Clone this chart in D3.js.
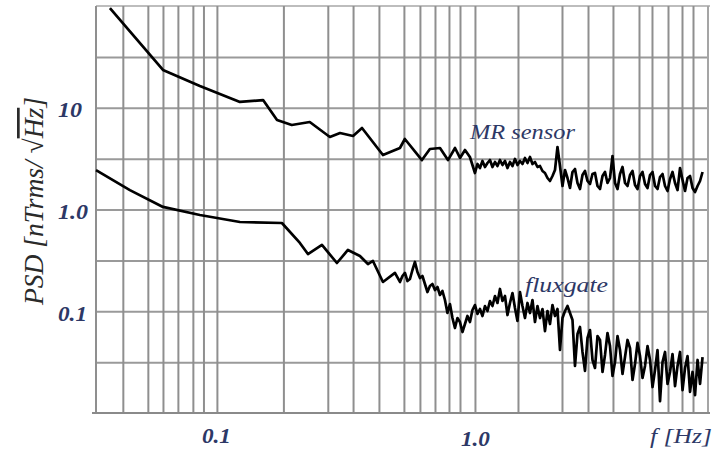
<!DOCTYPE html>
<html><head><meta charset="utf-8">
<script src="https://cdn.jsdelivr.net/npm/d3@7"></script>
<style>body{margin:0;background:#fff}svg{display:block}</style>
</head><body>
<svg id="c" width="721" height="451"></svg>
<script>
// ---- data (frequency in Hz, PSD in nTrms/sqrt(Hz)) ----
const mrFreq = [0.0385,0.0618,0.0859,0.1228,0.151,0.171,0.195,0.229,0.274,0.300,0.337,0.365,0.440,0.512,0.535,0.623,0.669,0.732,0.786,0.837,0.875,0.915,0.956,
 1.0,1.0226,1.0457,1.0693,1.0934,1.1181,1.1433,1.1691,1.1955,1.2225,1.25,1.2782,1.3071,1.3366,1.3667,1.3976,1.4291,1.4614,1.4943,1.5281,1.5625,1.5978,1.6339,1.6707,1.7084,1.747,1.7864,1.8267,1.8679,1.9101,1.9532,1.9973,2.0423,2.0884,2.1355,2.1837,2.233,2.2834,2.3349,2.3876,2.4415,2.4966,2.5529,2.6105,2.6694,2.7297,2.7913,2.8543,2.9187,2.9845,3.0519,3.1208,3.1912,3.2632,3.3368,3.4121,3.4891,3.5679,3.6484,3.7307,3.8149,3.901,3.989,4.079,4.1711,4.2652,4.3614,4.4599,4.5605,4.6634,4.7687,4.8763,4.9863,5.0989,5.2139,5.3316,5.4519,5.575,5.7008,5.8294,5.961,6.0955,6.2331,6.3737,6.5176,6.6647,6.8151,6.9689,7.1261,7.287,7.4514,7.6196];
const mrPSD = [95.5,23.5,16.4,11.4,11.9,7.58,6.77,7.24,5.16,5.65,5.28,6.32,3.43,4.02,4.93,3.06,3.93,4.02,3.06,4.02,3.21,3.84,3.28,
 2.284,2.8,2.558,2.997,2.616,2.864,3.066,2.616,2.93,2.676,3.066,2.737,2.997,2.558,2.93,2.676,3.136,2.737,2.997,2.8,3.208,2.864,3.281,2.8,2.93,2.616,2.676,2.39,2.284,2.04,1.906,2.134,2.444,4.115,2.676,1.702,2.444,2.04,1.627,2.336,2.5,1.822,1.59,2.183,2.39,1.906,1.781,2.233,2.284,1.702,1.59,2.134,2.336,1.822,2.04,3.356,1.822,1.59,2.233,2.616,1.822,1.702,2.183,2.39,1.741,1.59,2.134,2.336,1.781,1.627,2.183,2.336,1.702,1.59,2.086,2.233,1.702,1.52,1.994,2.336,1.822,1.555,2.558,1.95,1.52,2.04,2.134,1.627,1.486,1.702,1.906,2.336];
const fgFreq = [0.034,0.046,0.0618,0.0859,0.1228,0.1786,0.2097,0.2253,0.2553,0.2918,0.3219,0.3583,0.3848,0.4024,0.440,0.4897,
 0.5121,0.5236,0.5355,0.5475,0.5599,0.5725,0.5854,0.5986,0.6121,0.6259,0.64,0.6545,0.6692,0.6843,0.6998,0.7156,0.7317,0.7482,0.7651,0.7824,0.8,0.8181,0.8365,0.8554,0.8747,0.8944,0.9146,0.9352,0.9563,0.9779,
 1.0,1.0226,1.0457,1.0693,1.0934,1.1181,1.1433,1.1691,1.1955,1.2225,1.25,1.2782,1.3071,1.3366,1.3667,1.3976,1.4291,1.4614,1.4943,1.5281,1.5625,1.5978,1.6339,1.6707,1.7084,1.747,1.7864,1.8267,1.8679,1.9101,1.9532,1.9973,2.0423,2.0884,2.1355,2.1837,2.233,2.2834,2.3349,2.3876,2.4415,2.4966,2.5529,2.6105,2.6694,2.7297,2.7913,2.8543,2.9187,2.9845,3.0519,3.1208,3.1912,3.2632,3.3368,3.4121,3.4891,3.5679,3.6484,3.7307,3.8149,3.901,3.989,4.079,4.1711,4.2652,4.3614,4.4599,4.5605,4.6634,4.7687,4.8763,4.9863,5.0989,5.2139,5.3316,5.4519,5.575,5.7008,5.8294,5.961,6.0955,6.2331,6.3737,6.5176,6.6647,6.8151,6.9689,7.1261,7.287,7.4514,7.6196];
const fgPSD = [2.44,1.55,1.06,0.883,0.754,0.737,0.469,0.365,0.448,0.298,0.400,0.349,0.291,0.312,0.194,0.238,
 0.194,0.2221,0.238,0.1983,0.2075,0.2543,0.305,0.243,0.2122,0.2221,0.1852,0.1546,0.177,0.1852,0.1617,0.1731,0.1445,0.1581,0.129,0.0961,0.1178,0.0858,0.0684,0.0858,0.0784,0.0625,0.0749,0.0898,0.0784,0.1029,
 0.1151,0.094,0.1052,0.0898,0.1126,0.1006,0.1261,0.1126,0.1412,0.1206,0.1655,0.1261,0.1412,0.0918,0.1206,0.1511,0.1076,0.0802,0.1546,0.1126,0.0858,0.1206,0.0961,0.129,0.0784,0.1126,0.0858,0.1052,0.0639,0.1006,0.0749,0.1151,0.0898,0.1052,0.0416,0.0858,0.1006,0.1126,0.0961,0.082,0.029,0.0597,0.07,0.0398,0.0259,0.0546,0.0654,0.0332,0.0277,0.0571,0.0522,0.0253,0.0372,0.0611,0.0455,0.0231,0.0317,0.0571,0.0416,0.0242,0.0355,0.0522,0.0435,0.0211,0.0303,0.0488,0.0363,0.0221,0.029,0.0455,0.0332,0.018,0.0265,0.0416,0.0131,0.0317,0.0398,0.0193,0.0253,0.038,0.0184,0.029,0.0398,0.0168,0.0277,0.0363,0.0161,0.0253,0.015,0.0332,0.0193,0.0355];
const xGridValues = [0.0432,0.054,0.0618,0.0706,0.0807,0.0887,0.1,0.181,0.269,0.337,0.4245,0.5305,0.612,0.70,0.793,0.875,1.0,1.468,2.174,2.742,3.426,4.322,4.853,5.599,6.344,6.998];
const yGridValues = [0.0316,0.1,0.316,1,3.16,10,31.6];
const xTickValues = [0.1, 1];
const xTickLabels = ["0.1", "1.0"];
const yTickValues = [10, 1, 0.1];
const yTickLabels = ["10", "1.0", "0.1"];
const xDomain = [0.034, 8.0];
const yDomain = [0.01, 100];
const seriesNames = ["MR sensor", "fluxgate"];

// ---- layout ----
const L = 96, R = 708, T = 6, B = 413;
const svg = d3.select("#c");
const x = d3.scaleLog().domain(xDomain).range([L, R]);
const y = d3.scaleLog().domain(yDomain).range([B, T]);
const gridCol = "#8f8f8f";
const labCol = "#2d3866";
const serif = "'Liberation Serif','Times New Roman',serif";

// frame top
svg.append("line").attr("x1", L).attr("x2", R + 2).attr("y1", T).attr("y2", T)
  .attr("stroke", "#bdbdbd").attr("stroke-width", 2);

// horizontal grid via axis
const gy = svg.append("g").attr("transform", `translate(${L},0)`)
  .call(d3.axisLeft(y).tickValues(yGridValues).tickSize(-(R - L)).tickFormat(""));
gy.select(".domain").remove();
gy.selectAll(".tick line").attr("stroke", "#9a9a9a").attr("stroke-width", 2);

// vertical grid via axis
const gx = svg.append("g").attr("transform", `translate(0,${B})`)
  .call(d3.axisBottom(x).tickValues(xGridValues).tickSize(-(B - T)).tickFormat(""));
gx.select(".domain").remove();
gx.selectAll(".tick line").attr("stroke", gridCol).attr("stroke-width", 2);

// borders
svg.append("line").attr("x1", L).attr("x2", L).attr("y1", T).attr("y2", B)
  .attr("stroke", gridCol).attr("stroke-width", 2);
svg.append("line").attr("x1", R).attr("x2", R).attr("y1", T).attr("y2", B)
  .attr("stroke", "#a5a5a5").attr("stroke-width", 2);
svg.append("line").attr("x1", L - 4).attr("x2", R + 2).attr("y1", B).attr("y2", B)
  .attr("stroke", "#8a8a8a").attr("stroke-width", 2);

// y tick labels via axis
const ay = svg.append("g").attr("transform", `translate(${L},0)`)
  .call(d3.axisLeft(y).tickValues(yTickValues).tickSize(0)
    .tickFormat((d, i) => yTickLabels[i]));
ay.select(".domain").remove();
ay.selectAll(".tick text")
  .attr("x", -38).attr("dy", "0.35em").attr("y", 2)
  .attr("text-anchor", "start")
  .attr("font-family", serif).attr("font-style", "italic").attr("font-weight", "bold")
  .attr("font-size", 20).attr("fill", labCol)
  .attr("textLength", (d, i) => [24, 30, 29][i]).attr("lengthAdjust", "spacingAndGlyphs");

// x tick labels via axis
const ax = svg.append("g").attr("transform", `translate(0,${B})`)
  .call(d3.axisBottom(x).tickValues(xTickValues).tickSize(0)
    .tickFormat((d, i) => xTickLabels[i]));
ax.select(".domain").remove();
ax.selectAll(".tick text")
  .attr("y", 0).attr("dy", (d, i) => [30, 33][i]).attr("dx", (d, i) => [-1, 0][i])
  .attr("text-anchor", "middle")
  .attr("font-family", serif).attr("font-style", "italic").attr("font-weight", "bold")
  .attr("font-size", 20).attr("fill", labCol)
  .attr("textLength", 29).attr("lengthAdjust", "spacingAndGlyphs");

// x axis title
svg.append("text").attr("x", 712).attr("y", 443).attr("text-anchor", "end")
  .attr("font-family", serif).attr("font-style", "italic")
  .attr("font-size", 20).attr("fill", labCol)
  .attr("textLength", 62).attr("lengthAdjust", "spacingAndGlyphs")
  .text("f [Hz]");

// y axis title
const yt = svg.append("text")
  .attr("transform", "translate(43,201) rotate(-90)")
  .attr("text-anchor", "middle")
  .attr("font-family", serif).attr("font-style", "italic")
  .attr("font-size", 27).attr("fill", "#2a2a2a")
  .attr("textLength", 208).attr("lengthAdjust", "spacingAndGlyphs");
yt.append("tspan").text("PSD [nTrms/ \u221A");
yt.append("tspan").style("text-decoration", "overline").text("Hz");
yt.append("tspan").text("]");

// lines
const line = d3.line().x(d => x(d[0])).y(d => y(d[1])).curve(d3.curveLinear);
const mrData = d3.zip(mrFreq, mrPSD);
const fgData = d3.zip(fgFreq, fgPSD);
svg.selectAll("path.series").data([mrData, fgData]).enter().append("path")
  .attr("class", "series")
  .attr("d", line).attr("fill", "none").attr("stroke", "#000")
  .attr("stroke-width", 2.7).attr("stroke-linejoin", "round");

// series labels
svg.append("text").attr("x", 470).attr("y", 139)
  .attr("font-family", serif).attr("font-style", "italic")
  .attr("font-size", 21).attr("fill", labCol)
  .attr("textLength", 105).attr("lengthAdjust", "spacingAndGlyphs")
  .text(seriesNames[0]);
svg.append("text").attr("x", 525).attr("y", 292)
  .attr("font-family", serif).attr("font-style", "italic")
  .attr("font-size", 21).attr("fill", labCol)
  .attr("textLength", 83).attr("lengthAdjust", "spacingAndGlyphs")
  .text(seriesNames[1]);
</script>
</body></html>
